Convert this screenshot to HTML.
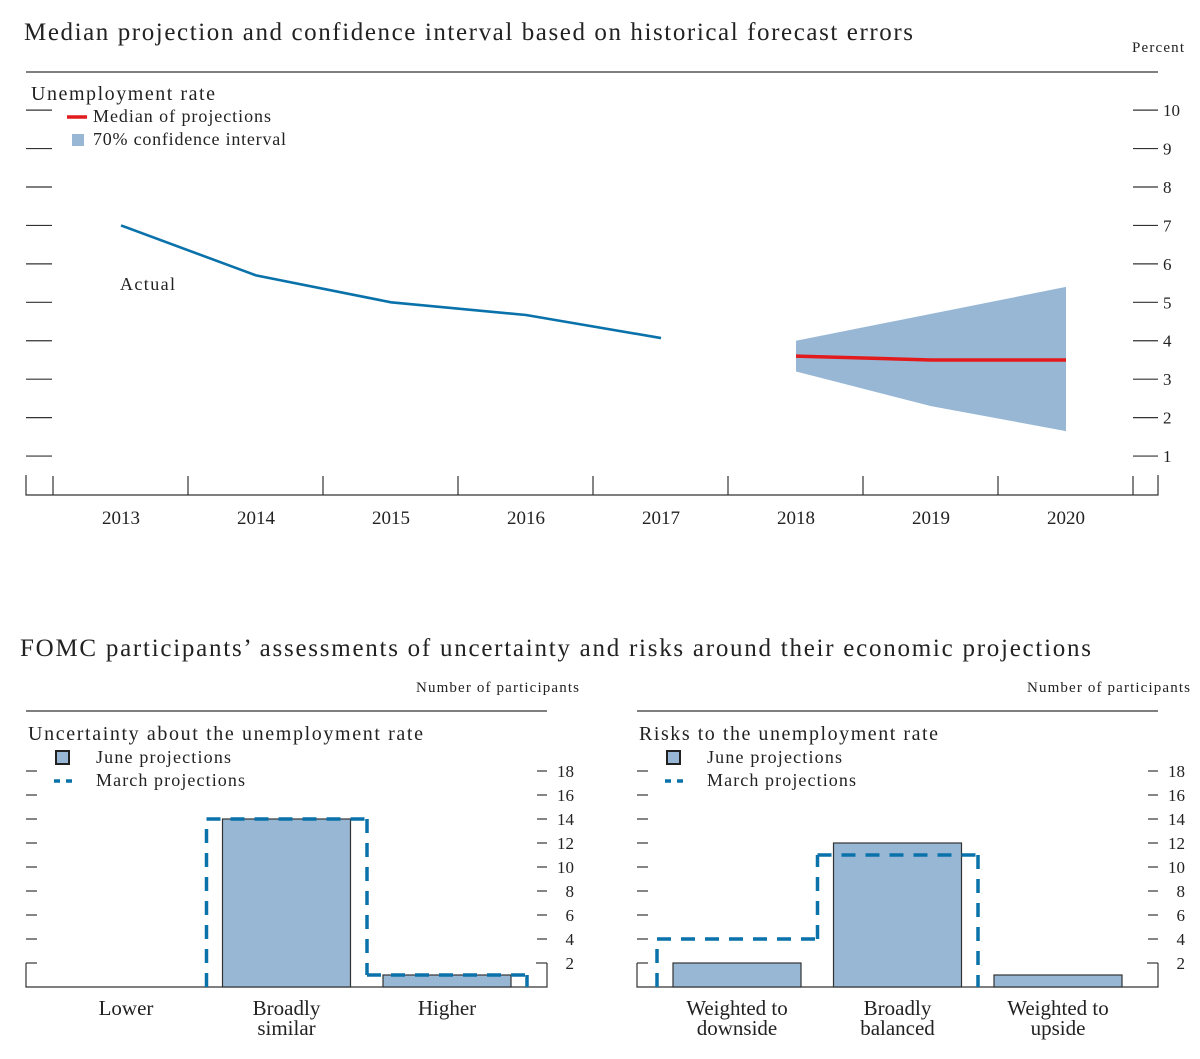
<!DOCTYPE html>
<html><head><meta charset="utf-8">
<style>
html,body{margin:0;padding:0;background:#fff;}
svg{display:block;font-family:"Liberation Serif",serif;fill:#222;}
</style></head>
<body>
<svg id="svg" width="1200" height="1059" viewBox="0 0 1200 1059">
<text x="24" y="40" font-size="25" textLength="889" lengthAdjust="spacing">Median projection and confidence interval based on historical forecast errors</text>
<text x="1132" y="52" font-size="15" textLength="52" lengthAdjust="spacing">Percent</text>
<line x1="26" y1="72" x2="1158" y2="72" stroke="#333" stroke-width="1.2"/>
<text x="31" y="100" font-size="20" textLength="184" lengthAdjust="spacing">Unemployment rate</text>
<line x1="67" y1="117" x2="87" y2="117" stroke="#e31a1c" stroke-width="3.5"/>
<text x="93" y="122" font-size="18" textLength="178" lengthAdjust="spacing">Median of projections</text>
<rect x="72" y="134" width="12" height="12" fill="#97b7d5"/>
<text x="93" y="145" font-size="18" textLength="193" lengthAdjust="spacing">70% confidence interval</text>
<text x="120" y="290" font-size="18" textLength="55" lengthAdjust="spacing">Actual</text>
<g id="top"></g>

<text x="20" y="656" font-size="25" textLength="1071" lengthAdjust="spacing">FOMC participants’ assessments of uncertainty and risks around their economic projections</text>
<g id="bl"></g>
<g id="br"></g>
</svg>
<script>
const NS="http://www.w3.org/2000/svg";
function mk(p,tag,attrs,txt){const e=document.createElementNS(NS,tag);for(const k in attrs)e.setAttribute(k,attrs[k]);if(txt!==undefined)e.textContent=txt;p.appendChild(e);return e;}

// ---- top chart data ----
const years=["2013","2014","2015","2016","2017","2018","2019","2020"];
const actualValues=[7.0,5.7,5.0,4.67,4.07];
const medianValues=[3.6,3.5,3.5];
const ciUpper=[4.0,4.7,5.4];
const ciLower=[3.2,2.3,1.65];
const topTicks=[1,2,3,4,5,6,7,8,9,10];

// ---- bottom charts data ----
const uncCategories=[["Lower"],["Broadly","similar"],["Higher"]];
const uncJune=[0,14,1];
const uncMarch=[0,14,1];
const riskCategories=[["Weighted to","downside"],["Broadly","balanced"],["Weighted to","upside"]];
const riskJune=[2,12,1];
const riskMarch=[4,11,0];
const barTicks=[2,4,6,8,10,12,14,16,18];

// top chart
(function(){
const g=document.getElementById('top');
const xL=26,xR=1158,y0=495;
const xc=i=>121+135*i;
const yv=v=>494.5-38.44*v;
let e=mk(g,'polyline',{points:`${xL},475 ${xL},${y0} ${xR},${y0} ${xR},475`,fill:'none',stroke:'#333','stroke-width':1.2});


for(let i=0;i<=years.length;i++){
  const x=xc(i)-68;
  e=mk(g,'line',{x1:x,y1:y0,x2:x,y2:476,stroke:'#333','stroke-width':1.2});
  
  
}
years.forEach((yr,i)=>{
  e=mk(g,'text',{x:xc(i),y:524,'font-size':19,'text-anchor':'middle'},yr);
  
  
});
topTicks.forEach(v=>{
  const y=yv(v);
  e=mk(g,'line',{x1:26,y1:y,x2:52,y2:y,stroke:'#333','stroke-width':1.2});
  
  
  e=mk(g,'line',{x1:1133,y1:y,x2:1158,y2:y,stroke:'#333','stroke-width':1.2});
  
  
  e=mk(g,'text',{x:1163,y:y+6,'font-size':17},String(v));
  
  
});
const off=5;
let pts=ciUpper.map((v,i)=>`${xc(i+off)},${yv(v)}`).concat(ciLower.map((v,i)=>`${xc(i+off)},${yv(v)}`).reverse());
e=mk(g,'polygon',{points:pts.join(' '),fill:'#97b7d5'});


e=mk(g,'polyline',{points:actualValues.map((v,i)=>`${xc(i)},${yv(v)}`).join(' '),fill:'none',stroke:'#0a72aa','stroke-width':2.6});


e=mk(g,'polyline',{points:medianValues.map((v,i)=>`${xc(i+off)},${yv(v)}`).join(' '),fill:'none',stroke:'#e31a1c','stroke-width':3.5});


})();

function barChart(id,xL,xR,title,titleW,cats,june,march){
const g=document.getElementById(id);
const y0=987, yv=v=>y0-12*v;
const cx=i=>xL+100+160.5*i;
let e;
e=mk(g,'text',{x:xR-131,y:692,'font-size':15,textLength:163,lengthAdjust:'spacing'},'Number of participants');


e=mk(g,'line',{x1:xL,y1:711,x2:xR,y2:711,stroke:'#333','stroke-width':1.2});


e=mk(g,'text',{x:xL+2,y:740,'font-size':20,textLength:titleW,lengthAdjust:'spacing'},title);


e=mk(g,'rect',{x:xL+30,y:751,width:13,height:13,fill:'#97b7d5',stroke:'#222','stroke-width':2});


e=mk(g,'text',{x:xL+70,y:763,'font-size':18,textLength:135,lengthAdjust:'spacing'},'June projections');


e=mk(g,'line',{x1:xL+28,y1:781,x2:xL+46,y2:781,stroke:'#0a72aa','stroke-width':3.5,'stroke-dasharray':'6 6'});


e=mk(g,'text',{x:xL+70,y:786,'font-size':18,textLength:149,lengthAdjust:'spacing'},'March projections');


e=mk(g,'polyline',{points:`${xL},${yv(2)} ${xL},${y0} ${xR},${y0} ${xR},${yv(2)}`,fill:'none',stroke:'#333','stroke-width':1.2});


e=mk(g,'line',{x1:xL,y1:yv(2),x2:xL+11,y2:yv(2),stroke:'#333','stroke-width':1.2});
e=mk(g,'line',{x1:xR-11,y1:yv(2),x2:xR,y2:yv(2),stroke:'#333','stroke-width':1.2});
barTicks.forEach(v=>{
  const y=yv(v);
  if(v>2){
  e=mk(g,'line',{x1:xL,y1:y,x2:xL+11,y2:y,stroke:'#333','stroke-width':1.2});
  
  
  e=mk(g,'line',{x1:xR-10,y1:y,x2:xR,y2:y,stroke:'#333','stroke-width':1.2});
  
  
  }
  e=mk(g,'text',{x:xR+27,y:y+6,'font-size':17,'text-anchor':'end'},String(v));
  
  
});
june.forEach((v,i)=>{
  if(v<=0)return;
  e=mk(g,'rect',{x:cx(i)-64,y:yv(v),width:128,height:y0-yv(v),fill:'#97b7d5',stroke:'#333','stroke-width':1.2});
  
  
});
cats.forEach((c,i)=>{
  c.forEach((ln,j)=>{
    e=mk(g,'text',{x:cx(i),y:1015+j*20,'font-size':21,'text-anchor':'middle'},ln);
    
    
  });
});
// March step outline, skipping zero-height horizontals
let d='';
let prev=0;
march.forEach((v,i)=>{
  const a=cx(i)-80,b=cx(i)+80;
  if(v!==prev) d+=`M${a},${yv(prev)} L${a},${yv(v)} `;
  if(v>0) d+=`M${a},${yv(v)} L${b},${yv(v)} `;
  prev=v;
});
if(prev>0){const b=cx(march.length-1)+80; d+=`M${b},${yv(prev)} L${b},${yv(0)} `;}
e=mk(g,'path',{d:d,fill:'none',stroke:'#0a72aa','stroke-width':3.5,'stroke-dasharray':'14 10'});


}
barChart('bl',26,547,'Uncertainty about the unemployment rate',395,uncCategories,uncJune,uncMarch);
barChart('br',637,1158,'Risks to the unemployment rate',299,riskCategories,riskJune,riskMarch);
</script>
</body></html>
